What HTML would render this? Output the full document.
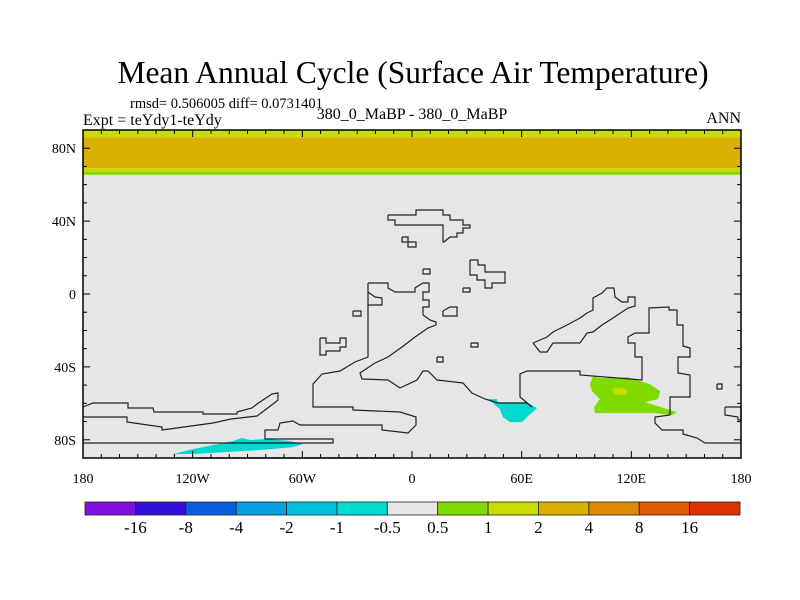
<!DOCTYPE html>
<html><head><meta charset="utf-8"><style>
body{margin:0;background:#fff;}
svg{display:block;font-family:"Liberation Serif",serif;}
</style></head><body>
<svg id="chart" width="800" height="600" viewBox="0 0 800 600">
<text x="413" y="83" font-size="31.5" text-anchor="middle">Mean Annual Cycle (Surface Air Temperature)</text>
<text x="130" y="108" font-size="14.5">rmsd= 0.506005 diff= 0.0731401</text>
<text x="83" y="125" font-size="16">Expt = teYdy1-teYdy</text>
<text x="412" y="119" font-size="16" text-anchor="middle">380_0_MaBP - 380_0_MaBP</text>
<text x="741" y="123" font-size="16" text-anchor="end">ANN</text>
<g id="plot"></g>
<g id="cbar"></g>
</svg>
<script>
// ---- data ----
var xTicks=[-180,-120,-60,0,60,120,180];
var xTickLabels=["180","120W","60W","0","60E","120E","180"];
var yTicks=[80,40,0,-40,-80];
var yTickLabels=["80N","40N","0","40S","80S"];
var arcticBandLats=[90,86,69,67,65.4];
var arcticBandColors=["#c8dc00","#dcb000","#c8dc00","#80dc00"];
var blobCyanLon=[41.6,46.5,47,62.9,68.4,62.9,60.2,53.6,49.8,48.1];
var blobCyanLat=[-57.7,-57.7,-59.4,-59.4,-62.6,-67.6,-70.3,-70.3,-67.6,-63.2];
var blobGreenLon=[99,102.8,118.2,130.2,135.7,134.6,127.5,145,142.2,132.9,113.8,100.1,99.6,102.8,98.5,97.4];
var blobGreenLat=[-45.1,-46.2,-45.7,-49.5,-53.3,-57.7,-59.4,-64.8,-66.5,-65.4,-65.4,-65.4,-62.1,-57.7,-53.3,-49.5];
var blobYellowLon=[109.4,114.9,118.2,116.6,110.5];
var blobYellowLat=[-52.2,-51.1,-53.3,-55.5,-54.9];
var blobSouthLon=[-130.7,-119.8,-97.9,-93,-88.6,-79.3,-66.7,-59.6,-65.1,-83.2,-101.2,-119.8];
var blobSouthLat=[-87.8,-85.1,-80.7,-79,-80.1,-79.6,-80.7,-82.3,-84,-85.6,-86.7,-87.8];
var cbColors=["#7f10e0","#3010d8","#0a5ce0","#05a0e0","#00c0e0","#00dcd0","#e6e6e6","#80dc00","#c8dc00","#dcb000","#e08a00","#e05a00","#e03000"];
var cbLabels=["-16","-8","-4","-2","-1","-0.5","0.5","1","2","4","8","16"];
// ---- axes ----
var X0=83,X1=741,Y0=130,Y1=458;
function x(lon){return X0+(lon+180)/360*(X1-X0);}
function y(lat){return Y0+(90-lat)/180*(Y1-Y0);}
var NS="http://www.w3.org/2000/svg";
function mk(t,a,p){var e=document.createElementNS(NS,t);for(var k in a)e.setAttribute(k,a[k]);(p||plot).appendChild(e);return e;}
var plot=document.getElementById('plot');
var bg=mk('rect',{x:X0,y:Y0,width:X1-X0,height:Y1-Y0,fill:'#e6e6e6'});


for(var i=0;i<arcticBandColors.length;i++){
 var b=mk('rect',{x:X0,y:y(arcticBandLats[i]),width:X1-X0,height:y(arcticBandLats[i+1])-y(arcticBandLats[i]),fill:arcticBandColors[i]});
 
 
}
function blob(lons,lats,fill,name){
 var pts=lons.map(function(l,i){return x(l)+','+y(lats[i]);}).join(' ');
 var p=mk('polygon',{points:pts,fill:fill});
 
 
}
blob(blobCyanLon,blobCyanLat,'#00d8d0','cyan-region-indian');
blob(blobGreenLon,blobGreenLat,'#80dc00','green-region-australia');
blob(blobYellowLon,blobYellowLat,'#c8dc00','yellow-region');
blob(blobSouthLon,blobSouthLat,'#00d8d0','cyan-region-south');
// basemap coastline outlines (pixel geometry)
var coasts=[
"388,215 416,215 416,210 443,210 443,215 450,215 450,220 463,220 463,225 470,225 470,228 463,228 463,233 457,233 457,237 450,237 444,242 443,242 443,225 395,225 395,220 388,220 388,215",
"402,237 408,237 408,242 402,242 402,237","408,242 416,242 416,247 408,247 408,242",
"470,260 478,260 478,265 485,265 485,272 505,272 505,283 492,283 492,288 485,288 485,280 477,280 477,275 470,275 470,260",
"353,311 361,311 361,316 353,316 353,311","423,269 430,269 430,274 423,274 423,269","463,288 470,288 470,292 463,292 463,288",
"443,311 450,307 457,307 457,316 443,316 443,311","471,343 478,343 478,347 471,347 471,343","437,357 443,357 443,362 437,362 437,357","717,384 722,384 722,389 717,389 717,384",
"320,338 326,338 326,343 340,343 340,338 346,338 346,347 340,347 340,351 326,351 326,355 320,355 320,338",
"368,283 388,283 388,288 395,292 415,292 415,288 423,283 429,283 429,292 423,292 423,300 429,300 429,307 423,307 423,315 430,320 436,322 436,325 428,328 415,337 402,347 388,357 375,363 360,373 362,379 388,380 400,388 417,380 423,371 428,371 437,380 463,383 472,393 485,399 498,403 527,403 532,407",
"532,407 520,397 520,374 527,371 580,371 580,375 642,380 642,357 635,357 635,343 628,343 628,337 635,333 649,333 649,308 669,307 669,310 677,310 677,325 683,325 683,346 690,348 690,357 678,357 678,373 690,375 690,397 670,397 670,415 655,417 655,423 662,430 683,430 683,434 697,438 705,443 741,443",
"368,283 368,305 382,305 382,298 375,297 368,292 368,357 355,362 340,371 322,374 313,384 313,407 353,407 353,410 400,412 416,417 416,425 408,433 382,430 382,425 300,425 293,421 280,423 278,430 265,430 265,439 333,439 333,443 83,443",
"83,407 93,403 128,403 128,408 153,408 154,412 203,412 203,414 237,414 237,412 252,408 257,404 263,400 272,394 278,393 278,400 273,404 265,410 257,416 231,419 213,423 162,430 162,427 127,422 127,417 87,417 83,417",
"533,343 540,352 547,352 553,343 580,343 587,333 593,332 602,325 613,318 628,308 635,306 635,297 628,297 628,302 622,302 615,297 614,288 607,288 602,293 593,298 593,310 587,313 580,318 567,325 553,332 547,337 540,340 533,343",
"725,407 741,407 741,420 738,420 738,417 725,415 725,407",
"198,458 400,458"];
coasts.forEach(function(c){var l=mk('polyline',{points:c,fill:'none',stroke:'#222','stroke-width':1.2});
 
 });
var fr=mk('rect',{x:X0,y:Y0,width:X1-X0,height:Y1-Y0,fill:'none',stroke:'#000','stroke-width':1.5});


// ticks
for(var lon=-180;lon<=180;lon+=10){var major=lon%60==0;var L=major?7:4;
 mk('line',{x1:x(lon),x2:x(lon),y1:Y1,y2:Y1-L,stroke:'#000'});mk('line',{x1:x(lon),x2:x(lon),y1:Y0,y2:Y0+L,stroke:'#000'});}
for(var lat=-90;lat<=90;lat+=10){var maj=lat%40==0;var L2=maj?7:4;
 mk('line',{x1:X0,x2:X0+L2,y1:y(lat),y2:y(lat),stroke:'#000'});mk('line',{x1:X1,x2:X1-L2,y1:y(lat),y2:y(lat),stroke:'#000'});}
xTicks.forEach(function(v,i){var t=mk('text',{x:x(v),y:Y1+25,'font-size':14,'text-anchor':'middle'});t.textContent=xTickLabels[i];
 
 });
yTicks.forEach(function(v,i){var t=mk('text',{x:X0-7,y:y(v)+5,'font-size':14,'text-anchor':'end'});t.textContent=yTickLabels[i];
 
 });
// colorbar
var cb=document.getElementById('cbar');var CX0=85,CX1=740,CY=502,CH=13,bw=(CX1-CX0)/cbColors.length;
cbColors.forEach(function(c,i){var r=mk('rect',{x:CX0+i*bw,y:CY,width:bw,height:CH,fill:c,stroke:'#222','stroke-width':0.8},cb);
 
 });
cbLabels.forEach(function(s,i){var t=mk('text',{x:CX0+(i+1)*bw,y:CY+CH+18,'font-size':17,'text-anchor':'middle'},cb);t.textContent=s;
 
 });
</script>
</body></html>
